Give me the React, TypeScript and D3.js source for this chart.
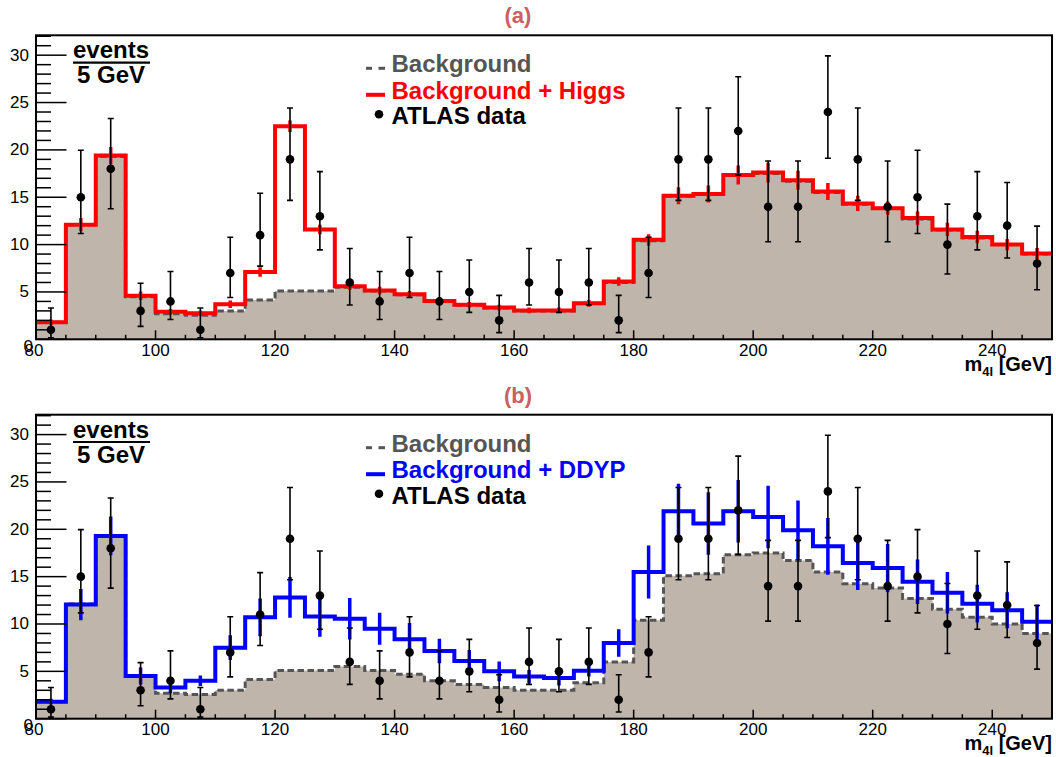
import { scaleLinear, range } from 'd3'

// bin lower edges in GeV (5 GeV bins)
const binLow = [
  80, 85, 90, 95, 100, 105, 110, 115, 120, 125, 130, 135, 140, 145, 150, 155, 160,
  165, 170, 175, 180, 185, 190, 195, 200, 205, 210, 215, 220, 225, 230, 235, 240, 245,
]
const binWidth = 5

// ATLAS data counts and their error bar ends
const dataCounts = [
  1, 15, 18, 3, 4, 1, 7, 11, 19, 13, 6, 4, 7, 4, 5, 2, 6, 5, 6, 2, 7, 19, 19, 22, 14, 14,
  24, 19, 14, 15, 10, 13, 12, 8,
]
const dataLow = [
  0.17, 11.17, 13.79, 1.37, 2.09, 0.17, 4.42, 7.73, 14.67, 9.44, 3.62, 2.09, 4.42, 2.09,
  2.84, 0.71, 3.62, 2.84, 3.62, 0.71, 4.42, 14.67, 14.67, 17.34, 10.3, 10.3, 19.12, 14.67,
  10.3, 11.17, 6.89, 9.44, 8.58, 5.23,
]
const dataHigh = [
  3.3, 19.96, 23.31, 5.92, 7.16, 3.3, 10.77, 15.42, 24.42, 17.7, 9.58, 7.16, 10.77, 7.16,
  8.38, 4.64, 9.58, 8.38, 9.58, 4.64, 10.77, 24.42, 24.42, 27.73, 18.83, 18.83, 29.93,
  24.42, 18.83, 19.96, 14.27, 17.7, 16.56, 11.95,
]

// background expectation
const background = [
  1.8, 12.1, 19.3, 4.5, 2.7, 2.55, 3.0, 4.15, 5.1, 5.1, 5.5, 5.1, 4.7, 4.0, 3.6, 3.3, 3.0,
  3.0, 3.8, 6.0, 10.4, 15.1, 15.3, 17.3, 17.5, 16.7, 15.5, 14.25, 13.8, 12.7, 11.55, 10.7,
  10.0, 9.0,
]

// background + Higgs
const bgHiggs = [
  1.8, 12.1, 19.4, 4.6, 2.9, 2.75, 3.7, 7.1, 22.5, 11.6, 5.6, 5.15, 4.75, 4.05, 3.65, 3.35,
  3.05, 3.05, 3.8, 6.1, 10.5, 15.15, 15.35, 17.35, 17.6, 16.8, 15.6, 14.35, 13.85, 12.8,
  11.6, 10.8, 10.0, 9.05,
]
const bgHiggsErr = [
  0.3, 0.7, 0.9, 0.45, 0.3, 0.3, 0.4, 0.5, 0.6, 0.5, 0.4, 0.4, 0.35, 0.35, 0.3, 0.3, 0.3,
  0.3, 0.35, 0.45, 0.6, 0.9, 0.9, 1.0, 1.05, 1.0, 0.9, 0.8, 0.7, 0.7, 0.7, 0.65, 0.6, 0.6,
]

// background + DDYP
const bgDdyp = [
  1.8, 12.05, 19.3, 4.5, 3.3, 4.0, 7.5, 10.7, 12.8, 10.8, 10.55, 9.5, 8.4, 7.15, 6.1, 5.0,
  4.45, 4.3, 5.05, 8.0, 15.5, 21.9, 20.6, 21.9, 21.3, 19.9, 18.2, 16.45, 15.9, 14.45, 13.3,
  12.15, 11.45, 10.25,
]
const bgDdypErr = [
  0.3, 1.65, 2.05, 0.9, 0.6, 0.55, 1.3, 2.0, 2.15, 2.15, 2.2, 1.7, 1.7, 1.3, 1.15, 1.05,
  0.7, 0.8, 0.6, 1.45, 2.8, 2.9, 3.3, 3.3, 3.3, 3.15, 3.0, 2.85, 2.55, 2.35, 2.2, 2.0, 1.9,
  1.8,
]

const yTickLabels = [0, 5, 10, 15, 20, 25, 30]
const xTickLabels = [80, 100, 120, 140, 160, 180, 200, 220, 240]

const FONT = '"Liberation Sans", Arial, Helvetica, sans-serif'
const FILL = '#c0b5ab'
const FRAME_H = 304
const LEFT = 36
const RIGHT = 1052

function stepPath(vals: number[], x: (v: number) => number, y: (v: number) => number) {
  let d = ''
  vals.forEach((v, i) => {
    const x0 = x(binLow[i])
    const x1 = x(binLow[i] + binWidth)
    d += (i === 0 ? `M${x0},${y(v)}` : `L${x0},${y(v)}`) + `L${x1},${y(v)}`
  })
  return d
}

interface PanelProps {
  id: string
  top: number
  title: string
  total: number[]
  totalErr: number[]
  color: string
  legendLabel: string
}

const Panel = ({ id, top, title, total, totalErr, color, legendLabel }: PanelProps) => {
  const bottom = top + FRAME_H
  const x = scaleLinear([80, 250], [LEFT, RIGHT])
  const y = scaleLinear([0, 32.1], [bottom, top])

  const bgLine = stepPath(background, x, y)
  const fillPath =
    `M${x(80)},${y(0)}` + bgLine.replace(/^M/, 'L') + `L${x(250)},${y(0)}Z`
  const totalLine = stepPath(total, x, y)

  const lx = 366
  const ly = top + 37

  return (
    <g>
      <defs>
        <clipPath id={`clip-${id}`}>
          <rect x={LEFT} y={top} width={RIGHT - LEFT} height={FRAME_H} />
        </clipPath>
      </defs>
      <text
        x={518}
        y={top - 12}
        textAnchor="middle"
        fontFamily={FONT}
        fontWeight="bold"
        fontSize={22}
        fill="#cc5f5f"
      >
        {title}
      </text>
      <g clipPath={`url(#clip-${id})`}>
        <path d={fillPath} fill={FILL} />
        <path d={bgLine} fill="none" stroke="#555" strokeWidth={3} strokeDasharray="6.5,3.5" />
        <path d={totalLine} fill="none" stroke={color} strokeWidth={4} />
        {total.map((v, i) => {
          const cx = x(binLow[i] + binWidth / 2)
          return (
            <line
              key={`te${i}`}
              x1={cx}
              x2={cx}
              y1={y(v - totalErr[i])}
              y2={y(v + totalErr[i])}
              stroke={color}
              strokeWidth={3.5}
            />
          )
        })}
        {dataCounts.map((v, i) => {
          const cx = x(binLow[i] + binWidth / 2)
          const yl = y(dataLow[i])
          const yh = y(dataHigh[i])
          return (
            <g key={`d${i}`} stroke="#000" strokeWidth={1.6}>
              <line x1={cx} x2={cx} y1={yl} y2={yh} />
              <line x1={cx - 3} x2={cx + 3} y1={yl} y2={yl} />
              <line x1={cx - 3} x2={cx + 3} y1={yh} y2={yh} />
              <circle cx={cx} cy={y(v)} r={4.3} fill="#000" stroke="none" />
            </g>
          )
        })}
      </g>
      {/* frame */}
      <rect
        x={LEFT}
        y={top}
        width={RIGHT - LEFT}
        height={FRAME_H}
        fill="none"
        stroke="#000"
        strokeWidth={2}
      />
      {/* y ticks */}
      {range(0, 32.5, 1).map((t) => (
        <line
          key={`yt${t}`}
          x1={LEFT}
          x2={LEFT + (t % 5 === 0 ? 30.5 : 15)}
          y1={y(t)}
          y2={y(t)}
          stroke="#000"
          strokeWidth={1.5}
        />
      ))}
      {yTickLabels.map((t) => (
        <text
          key={`yl${t}`}
          x={t === 0 ? 33 : 29}
          y={t === 0 ? bottom + 7 : y(t)}
          textAnchor="end"
          dominantBaseline="central"
          fontFamily={FONT}
          fontSize={17}
          fill="#000"
        >
          {t}
        </text>
      ))}
      {/* x ticks */}
      {range(80, 251, 5).map((t) => (
        <line
          key={`xt${t}`}
          x1={x(t)}
          x2={x(t)}
          y1={bottom}
          y2={bottom - ((t - 80) % 20 === 0 ? 9 : 4.5)}
          stroke="#000"
          strokeWidth={1.5}
        />
      ))}
      {xTickLabels.map((t) => (
        <text
          key={`xl${t}`}
          x={x(t) - (t === 80 ? 2 : 0)}
          y={bottom + 16.5}
          textAnchor="middle"
          fontFamily={FONT}
          fontSize={17}
          fill="#000"
        >
          {t}
        </text>
      ))}
      <text
        x={RIGHT}
        y={bottom + 31.5}
        textAnchor="end"
        fontFamily={FONT}
        fontWeight="bold"
        fontSize={20}
        fill="#000"
      >
        <tspan>m</tspan>
        <tspan fontSize={13} dy={5}>
          4l
        </tspan>
        <tspan dy={-5}> [GeV]</tspan>
      </text>
      {/* events / 5 GeV */}
      <text x={111} y={top + 23} textAnchor="middle" fontFamily={FONT} fontWeight="bold" fontSize={24}>
        events
      </text>
      <line x1={73} x2={150} y1={top + 27.3} y2={top + 27.3} stroke="#000" strokeWidth={2.2} />
      <text x={111} y={top + 48} textAnchor="middle" fontFamily={FONT} fontWeight="bold" fontSize={24}>
        5 GeV
      </text>
      {/* legend */}
      <line x1={lx} x2={372} y1={ly - 4} y2={ly - 4} stroke="#555" strokeWidth={3} />
      <line x1={378.5} x2={385} y1={ly - 4} y2={ly - 4} stroke="#555" strokeWidth={3} />
      <text x={391.5} y={ly} fontFamily={FONT} fontWeight="bold" fontSize={24} fill="#555">
        Background
      </text>
      <line x1={lx} x2={385} y1={ly + 22.5} y2={ly + 22.5} stroke={color} strokeWidth={4} />
      <text x={391.5} y={ly + 26.3} fontFamily={FONT} fontWeight="bold" fontSize={24} fill={color}>
        {legendLabel}
      </text>
      <circle cx={379} cy={ly + 42} r={4.3} fill="#000" />
      <text x={391.5} y={ly + 52} fontFamily={FONT} fontWeight="bold" fontSize={24} fill="#000">
        ATLAS data
      </text>
    </g>
  )
}

export default function App() {
  return (
    <svg
      width={1056}
      height={757}
      viewBox="0 0 1056 757"
      style={{ position: 'absolute', left: 0, top: 0, background: '#fff' }}
    >
      <rect width={1056} height={757} fill="#fff" />
      <Panel
        id="a"
        top={35.3}
        title="(a)"
        total={bgHiggs}
        totalErr={bgHiggsErr}
        color="#ff0000"
        legendLabel="Background + Higgs"
      />
      <Panel
        id="b"
        top={414.7}
        title="(b)"
        total={bgDdyp}
        totalErr={bgDdypErr}
        color="#0000ff"
        legendLabel="Background + DDYP"
      />
    </svg>
  )
}
